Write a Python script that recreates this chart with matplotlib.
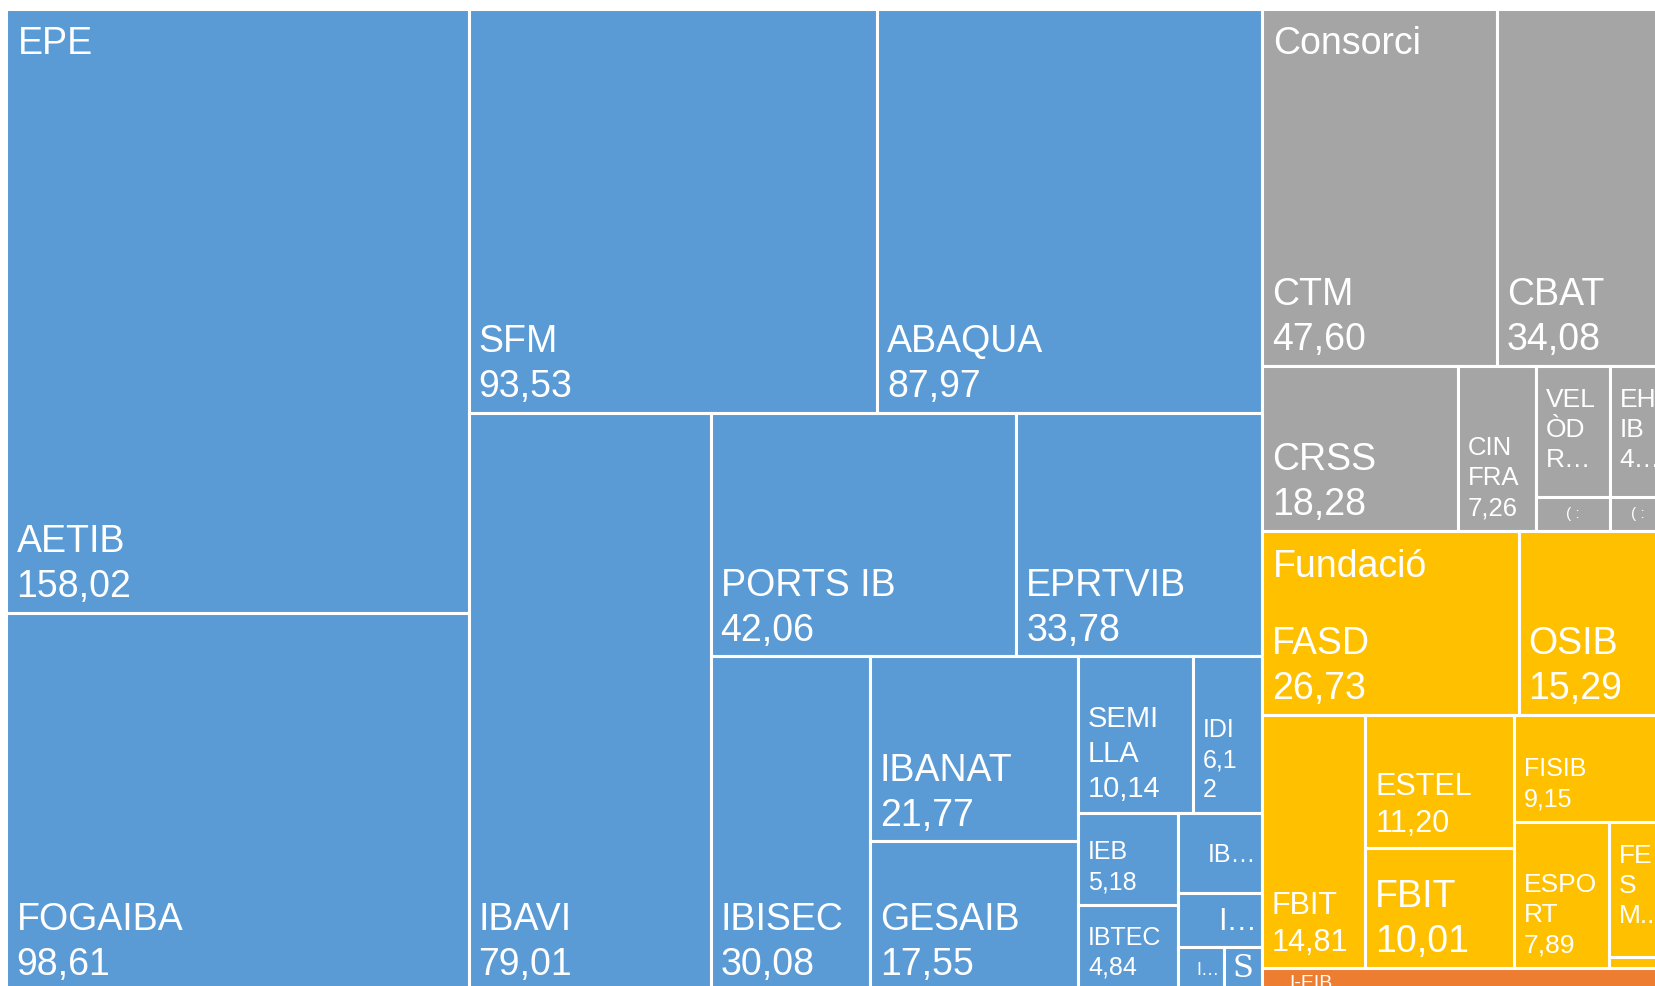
import matplotlib.pyplot as plt
from matplotlib.patches import Rectangle

# groups (top level of the treemap)
groups = ['EPE', 'Consorci', 'Fundació', 'I-EIB']
group_colors = ['#5B9BD5', '#A5A5A5', '#FFC000', '#ED7D31']

# leaves per group, values in M EUR
epe_names = ['AETIB', 'FOGAIBA', 'SFM', 'ABAQUA', 'IBAVI', 'PORTS IB', 'EPRTVIB', 'IBISEC',
             'IBANAT', 'GESAIB', 'SEMILLA', 'IDI', 'IEB', 'IBTEC', 'IB…', 'I…', 'I…', 'S']
epe_values = [158.02, 98.61, 93.53, 87.97, 79.01, 42.06, 33.78, 30.08,
              21.77, 17.55, 10.14, 6.12, 5.18, 4.84, 3.80, 2.55, 1.15, 0.93]

cons_names = ['CTM', 'CBAT', 'CRSS', 'CINFRA', 'VELÒDROM', 'EHIB', '( :', '( :']
cons_values = [47.60, 34.08, 18.28, 7.26, 5.47, 4.12, 1.41, 1.06]

fund_names = ['FASD', 'OSIB', 'FBIT', 'ESTEL', 'FBIT', 'FISIB', 'ESPORT', 'FES M.', '']
fund_values = [26.73, 15.29, 14.81, 11.20, 10.01, 9.15, 7.89, 4.32, 0.32]

other_names = ['']
other_values = [5.24]

# how the text is shown inside each tile ({v} = value), font size, placement
epe_text = ['{n}\n{v}'] * 10 + ['SEMI\nLLA\n{v}', 'IDI\n6,1\n2', '{n}\n{v}', '{n}\n{v}',
                                '{n}', '{n}', '{n}', '{n}']
epe_fs = [27] * 10 + [21, 18, 18, 18, 18, 22, 13, 22]
epe_pos = ['bl'] * 14 + ['r', 'r', 'r', 'c']

cons_text = ['{n}\n{v}'] * 3 + ['CIN\nFRA\n{v}', 'VEL\nÒD\nR…', 'EH\nIB\n4…', '{n}', '{n}']
cons_fs = [27, 27, 27, 18.5, 19, 19, 11, 11]
cons_pos = ['bl'] * 4 + ['tl', 'tl', 'c', 'c']

fund_text = ['{n}\n{v}'] * 6 + ['ESPO\nRT\n{v}', 'FE\nS\nM..', '']
fund_fs = [27, 27, 22, 22, 27, 18, 19, 19, 10]
fund_pos = ['bl'] * 7 + ['tl', 'bl']

# strips: (number of tiles, 'v' = column on the left, 'h' = row on top)
top_strips = [(1, 'v'), (1, 'h'), (1, 'h'), (1, 'h')]
epe_strips = [(2, 'v'), (2, 'h'), (1, 'v'), (2, 'h'), (1, 'v'), (2, 'v'), (2, 'h'),
              (2, 'v'), (1, 'h'), (1, 'h'), (1, 'v'), (1, 'v')]
cons_strips = [(2, 'h'), (1, 'v'), (1, 'v'), (2, 'h'), (1, 'v'), (1, 'v')]
fund_strips = [(2, 'h'), (1, 'v'), (2, 'v'), (1, 'h'), (1, 'v'), (1, 'h'), (1, 'h')]
other_strips = [(1, 'h')]


def strips_layout(values, box, strips):
    x, y, w, h = box
    rects = []
    i = 0
    for n, d in strips:
        part = values[i:i + n]
        frac = sum(part) / sum(values[i:])
        if d == 'v':
            sw = w * frac
            yy = y
            for v in part:
                hh = h * v / sum(part)
                rects.append((x, yy, sw, hh))
                yy += hh
            x += sw
            w -= sw
        else:
            sh = h * frac
            xx = x
            for v in part:
                ww = w * v / sum(part)
                rects.append((xx, y, ww, sh))
                xx += ww
            y += sh
            h -= sh
        i += n
    return rects


W, H = 1656, 986
fig = plt.figure(figsize=(W / 100, H / 100), dpi=100)
ax = fig.add_axes([0, 0, 1, 1])
ax.set_xlim(0, W)
ax.set_ylim(H, 0)
ax.axis('off')

FONT = 'Liberation Sans'
box = (6.5, 8.5, 1659, 982)

leaf_sets = [
    (epe_names, epe_values, epe_strips, epe_text, epe_fs, epe_pos),
    (cons_names, cons_values, cons_strips, cons_text, cons_fs, cons_pos),
    (fund_names, fund_values, fund_strips, fund_text, fund_fs, fund_pos),
    (other_names, other_values, other_strips, [''], [10], ['bl']),
]
totals = [sum(s[1]) for s in leaf_sets]
group_rects = strips_layout(totals, box, top_strips)

for g, (grect, leaves, color) in enumerate(zip(group_rects, leaf_sets, group_colors)):
    names, values, strips, texts, sizes, pos = leaves
    rects = strips_layout(values, grect, strips)
    for (x, y, w, h), name, val, txt, fs, p in zip(rects, names, values, texts, sizes, pos):
        patch = Rectangle((x, y), w, h, facecolor=color, edgecolor='white', linewidth=2.2)
        ax.add_patch(patch)
        if not txt:
            continue
        s = txt.format(n=name, v=f'{val:.2f}'.replace('.', ','))
        em = fs * 100 / 72
        if p == 'bl':
            t = ax.text(x + 10, y + h - 16 + 0.22 * em, s, ha='left', va='bottom',
                        fontsize=fs, color='white', family=FONT, linespacing=1.32)
        elif p == 'tl':
            t = ax.text(x + 10, y + 27 - 0.19 * em, s, ha='left', va='top',
                        fontsize=fs, color='white', family=FONT, linespacing=1.32)
        elif p == 'r':
            t = ax.text(x + w - 5, y + h / 2 + 2, s, ha='right', va='center',
                        fontsize=fs, color='white', family=FONT)
        else:
            fam = 'DejaVu Serif' if name == 'S' else FONT
            t = ax.text(x + w / 2, y + h / 2, s, ha='center', va='center',
                        fontsize=fs, color='white', family=fam)
        t.set_clip_path(patch)
    gx, gy = grect[0], grect[1]
    if g < 3:
        ax.text(gx + 11, gy + 46, groups[g], ha='left', va='baseline',
                fontsize=27, color='white', family=FONT, zorder=5)
    else:
        ax.text(gx + 28, gy + 7, groups[g], ha='left', va='top',
                fontsize=14, color='white', family=FONT, zorder=5)

fig.savefig('out.png', dpi=100)
